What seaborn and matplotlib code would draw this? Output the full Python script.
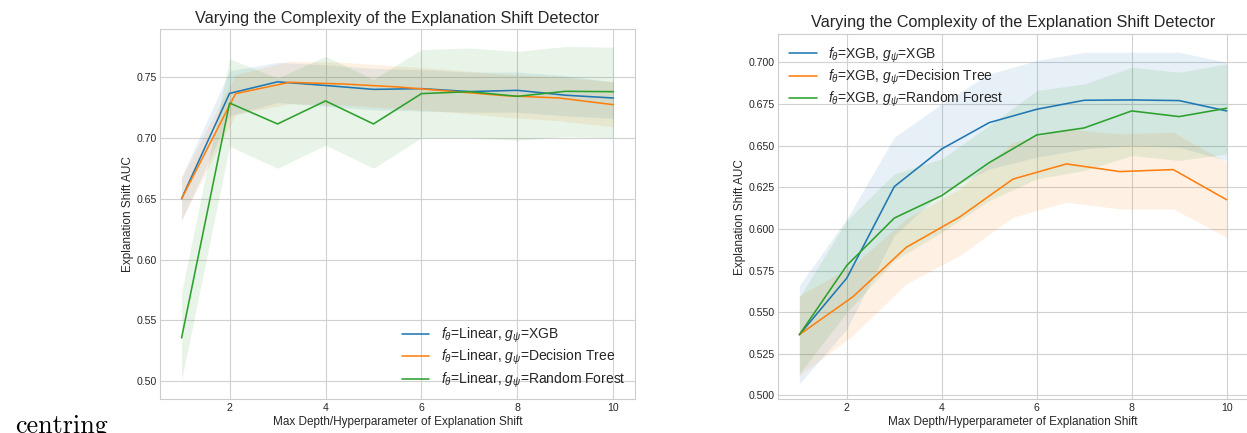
import numpy as np
import pandas as pd
import matplotlib
matplotlib.use("Agg")
import matplotlib.pyplot as plt
import seaborn as sns

# ---------------- data ----------------
depth_int = [1, 2, 3, 4, 5, 6, 7, 8, 9, 10]
depth_tree = [1.0, 2.125, 3.25, 4.375, 5.5, 6.625, 7.75, 8.875, 10.0]

# Left panel: f = Linear
lin_xgb = [0.650, 0.7365, 0.746, 0.743, 0.7398, 0.7404, 0.738, 0.739, 0.735, 0.7327]
lin_xgb_lo = [0.632, 0.718, 0.729, 0.726, 0.723, 0.722, 0.721, 0.721, 0.718, 0.716]
lin_xgb_hi = [0.668, 0.755, 0.762, 0.760, 0.757, 0.756, 0.754, 0.754, 0.751, 0.746]

lin_tree = [0.650, 0.7363, 0.7456, 0.7442, 0.7418, 0.7382, 0.7346, 0.7327, 0.7272]
lin_tree_lo = [0.633, 0.719, 0.728, 0.727, 0.724, 0.721, 0.717, 0.714, 0.709]
lin_tree_hi = [0.667, 0.752, 0.763, 0.762, 0.759, 0.756, 0.752, 0.750, 0.746]

lin_rf = [0.5356, 0.7286, 0.7114, 0.7303, 0.7114, 0.7363, 0.7379, 0.7341, 0.7382, 0.7379]
lin_rf_lo = [0.501, 0.693, 0.675, 0.694, 0.675, 0.700, 0.700, 0.698, 0.701, 0.700]
lin_rf_hi = [0.573, 0.765, 0.749, 0.767, 0.748, 0.7725, 0.7738, 0.771, 0.775, 0.7745]

# Right panel: f = XGB
xgb_xgb = [0.5365, 0.5705, 0.6254, 0.648, 0.6638, 0.6718, 0.6772, 0.6774, 0.6770, 0.6708]
xgb_xgb_lo = [0.507, 0.540, 0.596, 0.622, 0.636, 0.643, 0.648, 0.650, 0.649, 0.641]
xgb_xgb_hi = [0.566, 0.606, 0.655, 0.675, 0.693, 0.701, 0.706, 0.706, 0.706, 0.700]

xgb_tree = [0.5365, 0.5592, 0.5889, 0.6071, 0.6299, 0.639, 0.6344, 0.6356, 0.6175]
xgb_tree_lo = [0.512, 0.536, 0.567, 0.584, 0.607, 0.616, 0.612, 0.612, 0.595]
xgb_tree_hi = [0.560, 0.578, 0.606, 0.624, 0.652, 0.660, 0.657, 0.658, 0.640]

xgb_rf = [0.5365, 0.5781, 0.6065, 0.620, 0.6398, 0.6564, 0.6606, 0.6708, 0.6674, 0.6724]
xgb_rf_lo = [0.513, 0.550, 0.581, 0.598, 0.617, 0.630, 0.635, 0.644, 0.641, 0.645]
xgb_rf_hi = [0.559, 0.605, 0.633, 0.642, 0.662, 0.683, 0.687, 0.697, 0.694, 0.699]

left_yticks = [0.50, 0.55, 0.60, 0.65, 0.70, 0.75]
right_yticks = [0.500, 0.525, 0.550, 0.575, 0.600, 0.625, 0.650, 0.675, 0.700]
xticks = [2, 4, 6, 8, 10]

title = "Varying the Complexity of the Explanation Shift Detector"
xlabel = "Max Depth/Hyperparameter of Explanation Shift"
ylabel = "Explanation Shift AUC"
detectors = ["XGB", "Decision Tree", "Random Forest"]

# ---------------- style ----------------
sns.set_style("whitegrid", {
    "axes.edgecolor": "0.8",
    "grid.color": "0.82",
    "axes.linewidth": 1.0,
    "grid.linewidth": 1.0,
    "text.color": "0.15",
    "axes.labelcolor": "0.15",
    "xtick.color": "0.15",
    "ytick.color": "0.15",
})
plt.rcParams["font.family"] = ["Liberation Sans", "DejaVu Sans"]
plt.rcParams["mathtext.fontset"] = "custom"
plt.rcParams["mathtext.rm"] = "Liberation Sans"
plt.rcParams["mathtext.it"] = "Liberation Sans:italic"

colors = sns.color_palette("tab10")[:3]

fig = plt.figure(figsize=(12.47, 4.33), dpi=100)
ax_l = fig.add_axes([0.1283, 0.0774, 0.3809, 0.8545])
ax_r = fig.add_axes([0.6239, 0.0774, 0.3769, 0.8434])


def draw_panel(ax, model, series, ylim, yticks, fmt, legend_kw):
    for (xs, mean, lo, hi), name, col in zip(series, detectors, colors):
        df = pd.DataFrame({"depth": xs, "auc": mean})
        label = rf"$f_\theta$={model}, $g_\psi$={name}"
        sns.lineplot(data=df, x="depth", y="auc", ax=ax, color=col,
                     linewidth=1.15, label=label, errorbar=None)
        ax.fill_between(xs, lo, hi, color=col, alpha=0.11, linewidth=0)
    ax.set_xlim(0.55, 10.45)
    ax.set_ylim(*ylim)
    ax.set_xticks(xticks)
    ax.set_yticks(yticks)
    ax.set_yticklabels([fmt.format(v) for v in yticks])
    ax.tick_params(labelsize=7.6, length=0, pad=2.5)
    ax.set_title(title, fontsize=11.7, pad=5)
    ax.set_xlabel(xlabel, fontsize=8.5, labelpad=2.5)
    ax.set_ylabel(ylabel, fontsize=8.5, labelpad=1.5)
    ax.legend(fontsize=10, frameon=False, handlelength=2.0,
              labelspacing=0.22, **legend_kw)


draw_panel(
    ax_l, "Linear",
    [(depth_int, lin_xgb, lin_xgb_lo, lin_xgb_hi),
     (depth_tree, lin_tree, lin_tree_lo, lin_tree_hi),
     (depth_int, lin_rf, lin_rf_lo, lin_rf_hi)],
    (0.485, 0.789), left_yticks, "{:.2f}",
    dict(loc="lower right", borderaxespad=0.3))

draw_panel(
    ax_r, "XGB",
    [(depth_int, xgb_xgb, xgb_xgb_lo, xgb_xgb_hi),
     (depth_tree, xgb_tree, xgb_tree_lo, xgb_tree_hi),
     (depth_int, xgb_rf, xgb_rf_lo, xgb_rf_hi)],
    (0.4976, 0.7168), right_yticks, "{:.3f}",
    dict(loc="upper left", borderaxespad=0.4))

fig.text(15 / 1247, 0.0, "centring", family="cmr10", fontsize=18.8,
         color="black", va="baseline", ha="left")

fig.savefig("out.png", dpi=100)
